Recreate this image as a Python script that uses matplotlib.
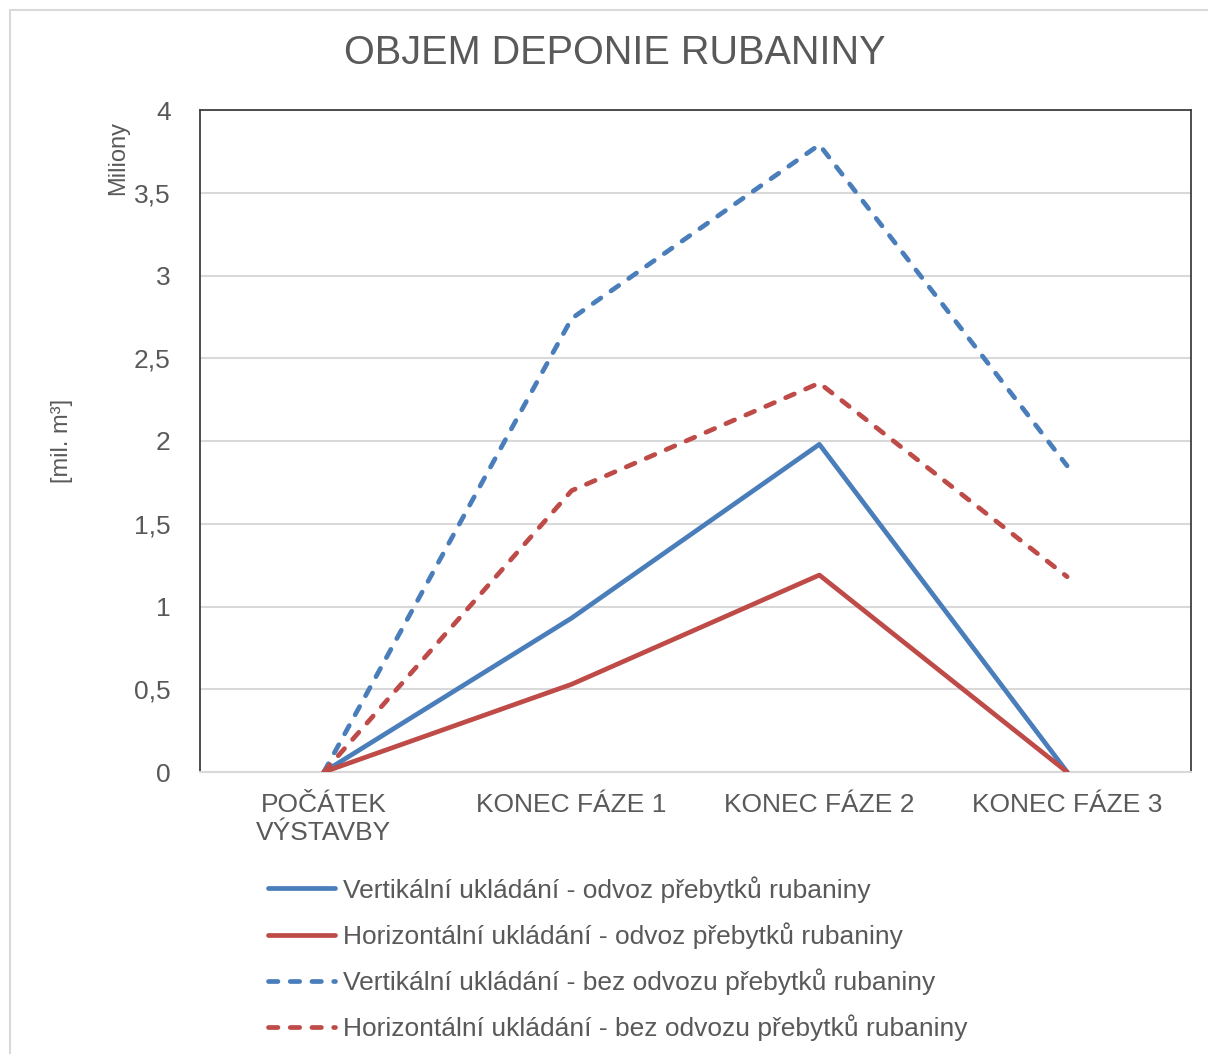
import matplotlib
matplotlib.use("Agg")
import matplotlib.pyplot as plt
from matplotlib.patches import Rectangle
from matplotlib.ticker import FuncFormatter, MultipleLocator

# Phases of construction and spoil volumes (millions of m3)
phases = ["POČÁTEK\nVÝSTAVBY", "KONEC FÁZE 1", "KONEC FÁZE 2", "KONEC FÁZE 3"]
vert_odvoz = [0.0, 0.93, 1.98, 0.0]
horiz_odvoz = [0.0, 0.53, 1.19, 0.0]
vert_bez = [0.0, 2.74, 3.79, 1.85]
horiz_bez = [0.0, 1.70, 2.35, 1.18]

labels = [
    "Vertikální ukládání - odvoz přebytků rubaniny",
    "Horizontální ukládání - odvoz přebytků rubaniny",
    "Vertikální ukládání - bez odvozu přebytků rubaniny",
    "Horizontální ukládání - bez odvozu přebytků rubaniny",
]

BLUE = "#4A7EBB"
RED = "#BE4B48"
TEXT = "#595959"
GRID = "#D9D9D9"

plt.rcParams["font.family"] = ["Liberation Sans", "DejaVu Sans"]

fig = plt.figure(figsize=(12.08, 10.54), dpi=100)
ax = fig.add_axes([200 / 1208, 1 - 772 / 1054, 991 / 1208, 662 / 1054])

x = range(len(phases))
lw = 3.4
ax.plot(x, vert_odvoz, color=BLUE, lw=lw, solid_capstyle="round",
        solid_joinstyle="round", label=labels[0], zorder=3)
ax.plot(x, horiz_odvoz, color=RED, lw=lw, solid_capstyle="round",
        solid_joinstyle="round", label=labels[1], zorder=3)
ax.plot(x, vert_bez, color=BLUE, lw=lw, dashes=(2.0, 2.6), dash_capstyle="round",
        dash_joinstyle="round", label=labels[2], zorder=3)
ax.plot(x, horiz_bez, color=RED, lw=lw, dashes=(2.0, 2.6), dash_capstyle="round",
        dash_joinstyle="round", label=labels[3], zorder=3)

ax.set_xlim(-0.5, len(phases) - 0.5)
ax.set_ylim(0, 4)
ax.yaxis.set_major_locator(MultipleLocator(0.5))
ax.yaxis.set_major_formatter(FuncFormatter(lambda v, p: f"{v:g}".replace(".", ",")))
ax.set_xticks(list(x))
ax.set_xticklabels(phases, linespacing=1.2)
ax.tick_params(axis="both", length=0, labelsize=19, colors=TEXT)
ax.tick_params(axis="y", pad=21)
ax.tick_params(axis="x", pad=15)

ax.grid(axis="y", color=GRID, lw=1.5, zorder=0)
ax.set_axisbelow(True)
for side in ["left", "top", "right"]:
    ax.spines[side].set_color("#404040")
    ax.spines[side].set_linewidth(1.3)
ax.spines["bottom"].set_color(GRID)
ax.spines["bottom"].set_linewidth(1.5)

fig.text(615 / 1208, 1 - 53 / 1054, "OBJEM DEPONIE RUBANINY", ha="center",
         va="center", fontsize=28.5, color=TEXT)
fig.text(118 / 1208, 1 - 158 / 1054, "Miliony", rotation=90, ha="center",
         va="center", fontsize=17, color=TEXT)
fig.text(62 / 1208, 1 - 441 / 1054, "[mil. m³]", rotation=90, ha="center",
         va="center", fontsize=17, color=TEXT)

leg = fig.legend(loc="upper left", bbox_to_anchor=(268 / 1208, 1 - 876 / 1054),
                 frameon=False, fontsize=19, handlelength=2.55, handletextpad=0.3,
                 labelspacing=0.74, borderpad=0, borderaxespad=0)
for t in leg.get_texts():
    t.set_color(TEXT)

# light frame around the whole chart
fig.patches.append(Rectangle((10 / 1208, -0.05), 1.1, 1.05 - 10 / 1054,
                             transform=fig.transFigure, fill=False,
                             edgecolor=GRID, lw=1.5))

fig.savefig("out.png", dpi=100, facecolor="white")
